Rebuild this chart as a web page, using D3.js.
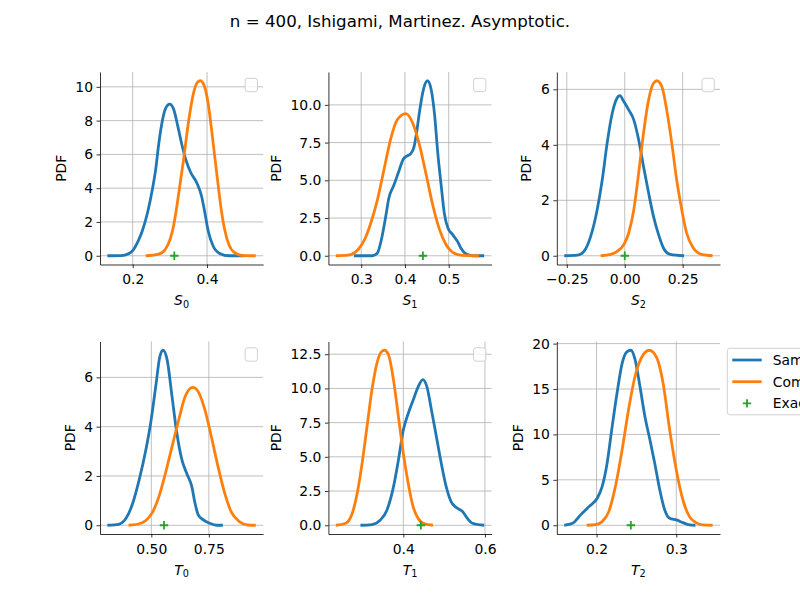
<!DOCTYPE html>
<html lang="en">
  <head>
    <meta charset="UTF-8" />
    <title>n = 400, Ishigami, Martinez. Asymptotic.</title>
    <script src="https://d3js.org/d3.v7.min.js"></script>
    <style>
      * {
        margin: 0;
        padding: 0;
      }
      body {
        background: #ffffff;
        font-family: "DejaVu Sans", sans-serif;
        overflow: hidden;
      }
      .tick text {
        font-size: 13.9px;
        fill: #000;
      }
      .grid line {
        stroke: #b0b0b0;
        stroke-width: 0.8;
      }
      .axis-label {
        font-size: 13.9px;
        fill: #000;
      }
    </style>
  </head>
  <body>
    <div id="chart"></div>
    <script>
      const title = "n = 400, Ishigami, Martinez. Asymptotic.";
      const legendLabels = ["Sample", "Computed", "Exact"];
      const panelNames = [["S", "0"], ["S", "1"], ["S", "2"], ["T", "0"], ["T", "1"], ["T", "2"]];

      // sample distribution (blue) and computed asymptotic distribution (orange)
      const s0Sample = [[0.132,0],[0.170,0.01],[0.187,0.1],[0.2,0.3],[0.213,0.79],[0.226,1.48],[0.240,2.56],[0.253,3.94],[0.262,5.13],[0.270,6.6],[0.279,7.9],[0.288,8.7],[0.2996,8.97],[0.310,8.68],[0.321,7.7],[0.332,6.6],[0.344,5.62],[0.356,4.93],[0.372,4.34],[0.385,3.55],[0.394,2.56],[0.403,1.48],[0.416,0.59],[0.434,0.14],[0.460,0],[0.500,0]];
      const s0Computed = [[0.235,0],[0.270,0.1],[0.288,0.39],[0.301,0.99],[0.310,1.78],[0.319,2.96],[0.328,4.34],[0.337,5.72],[0.345,7.1],[0.354,8.48],[0.363,9.57],[0.374,10.26],[0.382,10.36],[0.394,9.96],[0.4026,9.07],[0.411,7.69],[0.420,6.0],[0.429,4.34],[0.438,2.76],[0.447,1.58],[0.460,0.59],[0.473,0.2],[0.495,0.01],[0.531,0]];
      const s1Sample = [[0.2836,0],[0.326,0],[0.337,0.18],[0.346,1.06],[0.356,2.6],[0.363,3.8],[0.375,4.7],[0.386,5.6],[0.396,6.4],[0.404,6.6],[0.413,6.75],[0.421,7.25],[0.427,8.25],[0.434,9.7],[0.442,11.0],[0.4515,11.6],[0.460,11.0],[0.468,9.25],[0.475,6.8],[0.483,4.6],[0.490,2.8],[0.498,1.85],[0.509,1.4],[0.520,0.95],[0.528,0.5],[0.539,0.13],[0.554,0],[0.581,0]];
      const s1Computed = [[0.242,0],[0.270,0.04],[0.2925,0.4],[0.3075,1.06],[0.322,2.17],[0.337,3.7],[0.352,5.7],[0.367,7.7],[0.382,9.0],[0.402,9.42],[0.419,8.7],[0.434,7.25],[0.449,5.3],[0.464,3.3],[0.479,1.73],[0.494,0.73],[0.509,0.22],[0.531,0.02],[0.569,0]];
      const s2Sample = [[-0.261,0],[-0.204,0.02],[-0.176,0.16],[-0.147,0.7],[-0.119,1.66],[-0.097,2.74],[-0.076,4.06],[-0.054,5.14],[-0.036,5.64],[-0.021,5.77],[-0.004,5.56],[0.017,5.26],[0.039,4.9],[0.060,4.18],[0.081,3.22],[0.103,2.26],[0.124,1.42],[0.146,0.76],[0.167,0.28],[0.196,0.05],[0.256,0]];
      const s2Computed = [[-0.104,0],[-0.061,0.05],[-0.033,0.16],[-0.004,0.4],[0.017,0.82],[0.039,1.66],[0.060,2.98],[0.081,4.42],[0.103,5.62],[0.124,6.22],[0.139,6.31],[0.160,6.1],[0.181,5.26],[0.203,4.06],[0.224,2.74],[0.246,1.66],[0.267,0.82],[0.296,0.28],[0.331,0.05],[0.379,0]];
      const t0Sample = [[0.309,0],[0.361,0.05],[0.39,0.28],[0.419,0.89],[0.447,1.84],[0.476,3.05],[0.497,4.14],[0.519,5.62],[0.537,6.84],[0.551,7.1],[0.569,6.7],[0.590,5.22],[0.611,3.73],[0.633,2.65],[0.654,2.1],[0.676,1.57],[0.690,0.89],[0.704,0.42],[0.726,0.22],[0.754,0.08],[0.783,0],[0.811,0]];
      const t0Computed = [[0.401,0],[0.44,0.04],[0.476,0.19],[0.504,0.51],[0.533,1.16],[0.561,2.1],[0.590,3.19],[0.619,4.27],[0.647,5.22],[0.68,5.59],[0.704,5.42],[0.733,4.68],[0.761,3.59],[0.790,2.38],[0.819,1.3],[0.847,0.55],[0.883,0.15],[0.919,0.01],[0.954,0]];
      const t1Sample = [[0.295,0],[0.323,0.05],[0.344,0.39],[0.360,1.12],[0.376,2.82],[0.388,4.77],[0.4,6.96],[0.412,8.17],[0.424,9.14],[0.436,10.1],[0.448,10.65],[0.458,10.1],[0.469,8.41],[0.481,6.47],[0.493,4.52],[0.505,2.82],[0.517,1.73],[0.529,1.31],[0.545,1.0],[0.557,0.51],[0.569,0.15],[0.598,0]];
      const t1Computed = [[0.2347,0],[0.259,0.15],[0.275,0.88],[0.287,2.33],[0.299,4.52],[0.311,7.2],[0.323,9.87],[0.335,11.8],[0.346,12.67],[0.354,12.79],[0.364,12.43],[0.376,10.6],[0.388,7.93],[0.4,5.25],[0.412,3.06],[0.424,1.36],[0.436,0.51],[0.452,0.1],[0.4726,0]];
      const t2Sample = [[0.1595,0],[0.170,0.22],[0.180,1.14],[0.1905,2.05],[0.2008,2.97],[0.207,4.25],[0.2132,6.8],[0.219,10.5],[0.2256,14.5],[0.232,17.8],[0.238,19.1],[0.243,19.27],[0.248,18.35],[0.2545,15.24],[0.2607,11.94],[0.267,9.38],[0.273,6.8],[0.2793,3.88],[0.2855,1.68],[0.2917,0.77],[0.300,0.59],[0.3083,0.29],[0.3165,0.04],[0.324,0]];
      const t2Computed = [[0.1876,0],[0.1988,0.07],[0.207,0.4],[0.2153,1.5],[0.2236,4.25],[0.232,8.28],[0.240,12.67],[0.248,16.3],[0.2566,18.5],[0.2661,19.27],[0.2752,18.5],[0.2835,15.6],[0.2917,10.5],[0.300,6.08],[0.3083,2.78],[0.3165,0.95],[0.3248,0.29],[0.333,0.04],[0.3455,0]];

      // exact Sobol' index values
      const exactValues = [0.312, 0.441, 0.0, 0.555, 0.443, 0.243];

      // tick values per panel
      const xTicks = [[0.2, 0.4], [0.3, 0.4, 0.5], [-0.25, 0, 0.25], [0.5, 0.75], [0.4, 0.6], [0.2, 0.3]];
      const yTicks = [[0, 2, 4, 6, 8, 10], [0, 2.5, 5, 7.5, 10], [0, 2, 4, 6], [0, 2, 4, 6], [0, 2.5, 5, 7.5, 10, 12.5], [0, 5, 10, 15, 20]];
      const xTickFormats = [".1f", ".1f", ".2f", ".2f", ".1f", ".1f"];
      const yTickFormats = ["d", ".1f", "d", "d", ".1f", "d"];

      const samples = [s0Sample, s1Sample, s2Sample, t0Sample, t1Sample, t2Sample];
      const computed = [s0Computed, s1Computed, s2Computed, t0Computed, t1Computed, t2Computed];

      const W = 800, H = 600;
      const colors = { sample: "#1f77b4", computed: "#ff7f0e", exact: "#2ca02c" };

      // subplot grid like matplotlib (left .125, right .9, top .88, bottom .11, wspace/hspace .4)
      const figL = 0.125 * W, figR = 0.9 * W, figT = 0.12 * H, figB = 0.89 * H;
      const axW = (figR - figL) / (3 + 2 * 0.4);
      const axH = (figB - figT) / (2 + 0.4);

      const svg = d3.select("#chart").append("svg").attr("width", W).attr("height", H);
      svg.append("rect").attr("width", W).attr("height", H).attr("fill", "#fff");

      svg.append("text")
        .attr("x", W / 2)
        .attr("y", 26.5)
        .attr("text-anchor", "middle")
        .style("font-size", "16.67px")
        .text(title);

      const fmtMinus = (f) => (v) => d3.format(f)(v).replace("-", "\u2212");

      function padded(lo, hi) {
        const m = (hi - lo) * 0.05;
        return [lo - m, hi + m];
      }

      panelNames.forEach((name, i) => {
        const col = i % 3, row = Math.floor(i / 3);
        const left = figL + col * axW * 1.4;
        const top = figT + row * axH * 1.4;

        const all = samples[i].concat(computed[i], [[exactValues[i], 0]]);
        const x = d3.scaleLinear()
          .domain(padded(d3.min(all, (d) => d[0]), d3.max(all, (d) => d[0])))
          .range([0, axW]);
        const y = d3.scaleLinear()
          .domain(padded(d3.min(all, (d) => d[1]), d3.max(all, (d) => d[1])))
          .range([axH, 0]);

        const g = svg.append("g").attr("transform", `translate(${left},${top})`);

        // grid
        g.append("g").attr("class", "grid")
          .selectAll("line.vx").data(xTicks[i]).enter().append("line")
          .attr("x1", (d) => x(d)).attr("x2", (d) => x(d))
          .attr("y1", 0).attr("y2", axH);
        g.append("g").attr("class", "grid")
          .selectAll("line.hy").data(yTicks[i]).enter().append("line")
          .attr("y1", (d) => y(d)).attr("y2", (d) => y(d))
          .attr("x1", 0).attr("x2", axW);

        const line = d3.line()
          .x((d) => x(d[0]))
          .y((d) => y(d[1]))
          .curve(d3.curveMonotoneX);

        g.append("path").datum(samples[i])
          .attr("d", line).attr("fill", "none")
          .attr("stroke", colors.sample).attr("stroke-width", 2.78);
        g.append("path").datum(computed[i])
          .attr("d", line).attr("fill", "none")
          .attr("stroke", colors.computed).attr("stroke-width", 2.78);

        // exact value marker "+"
        const ex = x(exactValues[i]), ey = y(0);
        g.append("path")
          .attr("d", `M${ex - 4.2},${ey}H${ex + 4.2}M${ex},${ey - 4.2}V${ey + 4.2}`)
          .attr("stroke", colors.exact).attr("stroke-width", 1.8);

        // axes
        const xAxis = g.append("g").attr("transform", `translate(0,${axH})`)
          .call(d3.axisBottom(x).tickValues(xTicks[i]).tickFormat(fmtMinus(xTickFormats[i]))
            .tickSizeInner(3.5).tickSizeOuter(0).tickPadding(3.5));
        xAxis.selectAll("text").attr("dy", "0.93em").style("font-family", "DejaVu Sans");
        const yAxis = g.append("g")
          .call(d3.axisLeft(y).tickValues(yTicks[i]).tickFormat(fmtMinus(yTickFormats[i]))
            .tickSizeInner(3.5).tickSizeOuter(0).tickPadding(3.5));
        yAxis.selectAll("text").style("font-family", "DejaVu Sans");
        [xAxis, yAxis].forEach((a) => {
          a.select(".domain").attr("stroke-width", 0.8);
          a.selectAll(".tick line").attr("stroke-width", 0.8);
        });

        // y label
        const yb = yAxis.node().getBBox();
        g.append("text").attr("class", "axis-label")
          .attr("transform", `translate(${yb.x - 9.5},${axH / 2}) rotate(-90)`)
          .attr("text-anchor", "middle")
          .text("PDF");

        // x label, mathtext style
        const xl = g.append("text").attr("class", "axis-label")
          .attr("x", axW / 2).attr("y", axH + 40.5)
          .attr("text-anchor", "middle");
        xl.append("tspan").style("font-style", "italic").text(name[0]);
        xl.append("tspan").attr("dy", 2.5).style("font-size", "9.7px").text(name[1]);

        // legend box
        if (i < 5) {
          g.append("rect")
            .attr("x", axW - 18).attr("y", 6.3)
            .attr("width", 12.3).attr("height", 13.4)
            .attr("rx", 2.5)
            .attr("fill", "#fff").attr("fill-opacity", 0.8)
            .attr("stroke", "#cccccc").attr("stroke-width", 0.9);
        } else {
          const lg = g.append("g").attr("transform", `translate(${axW + 7.3},6.8)`);
          lg.append("rect")
            .attr("width", 120).attr("height", 66.5).attr("rx", 2.5)
            .attr("fill", "#fff").attr("stroke", "#cccccc").attr("stroke-width", 0.9);
          legendLabels.forEach((lab, k) => {
            const ry = 11.7 + k * 21.7;
            if (k < 2) {
              lg.append("line")
                .attr("x1", 5).attr("x2", 34.4).attr("y1", ry).attr("y2", ry)
                .attr("stroke", k === 0 ? colors.sample : colors.computed)
                .attr("stroke-width", 2.78);
            } else {
              lg.append("path")
                .attr("d", `M${19.7 - 4.2},${ry}H${19.7 + 4.2}M19.7,${ry - 4.2}V${ry + 4.2}`)
                .attr("stroke", colors.exact).attr("stroke-width", 1.8);
            }
            lg.append("text").attr("x", 45.4).attr("y", ry + 5)
              .style("font-size", "13.9px").text(lab);
          });
        }
      });
    </script>
  </body>
</html>
